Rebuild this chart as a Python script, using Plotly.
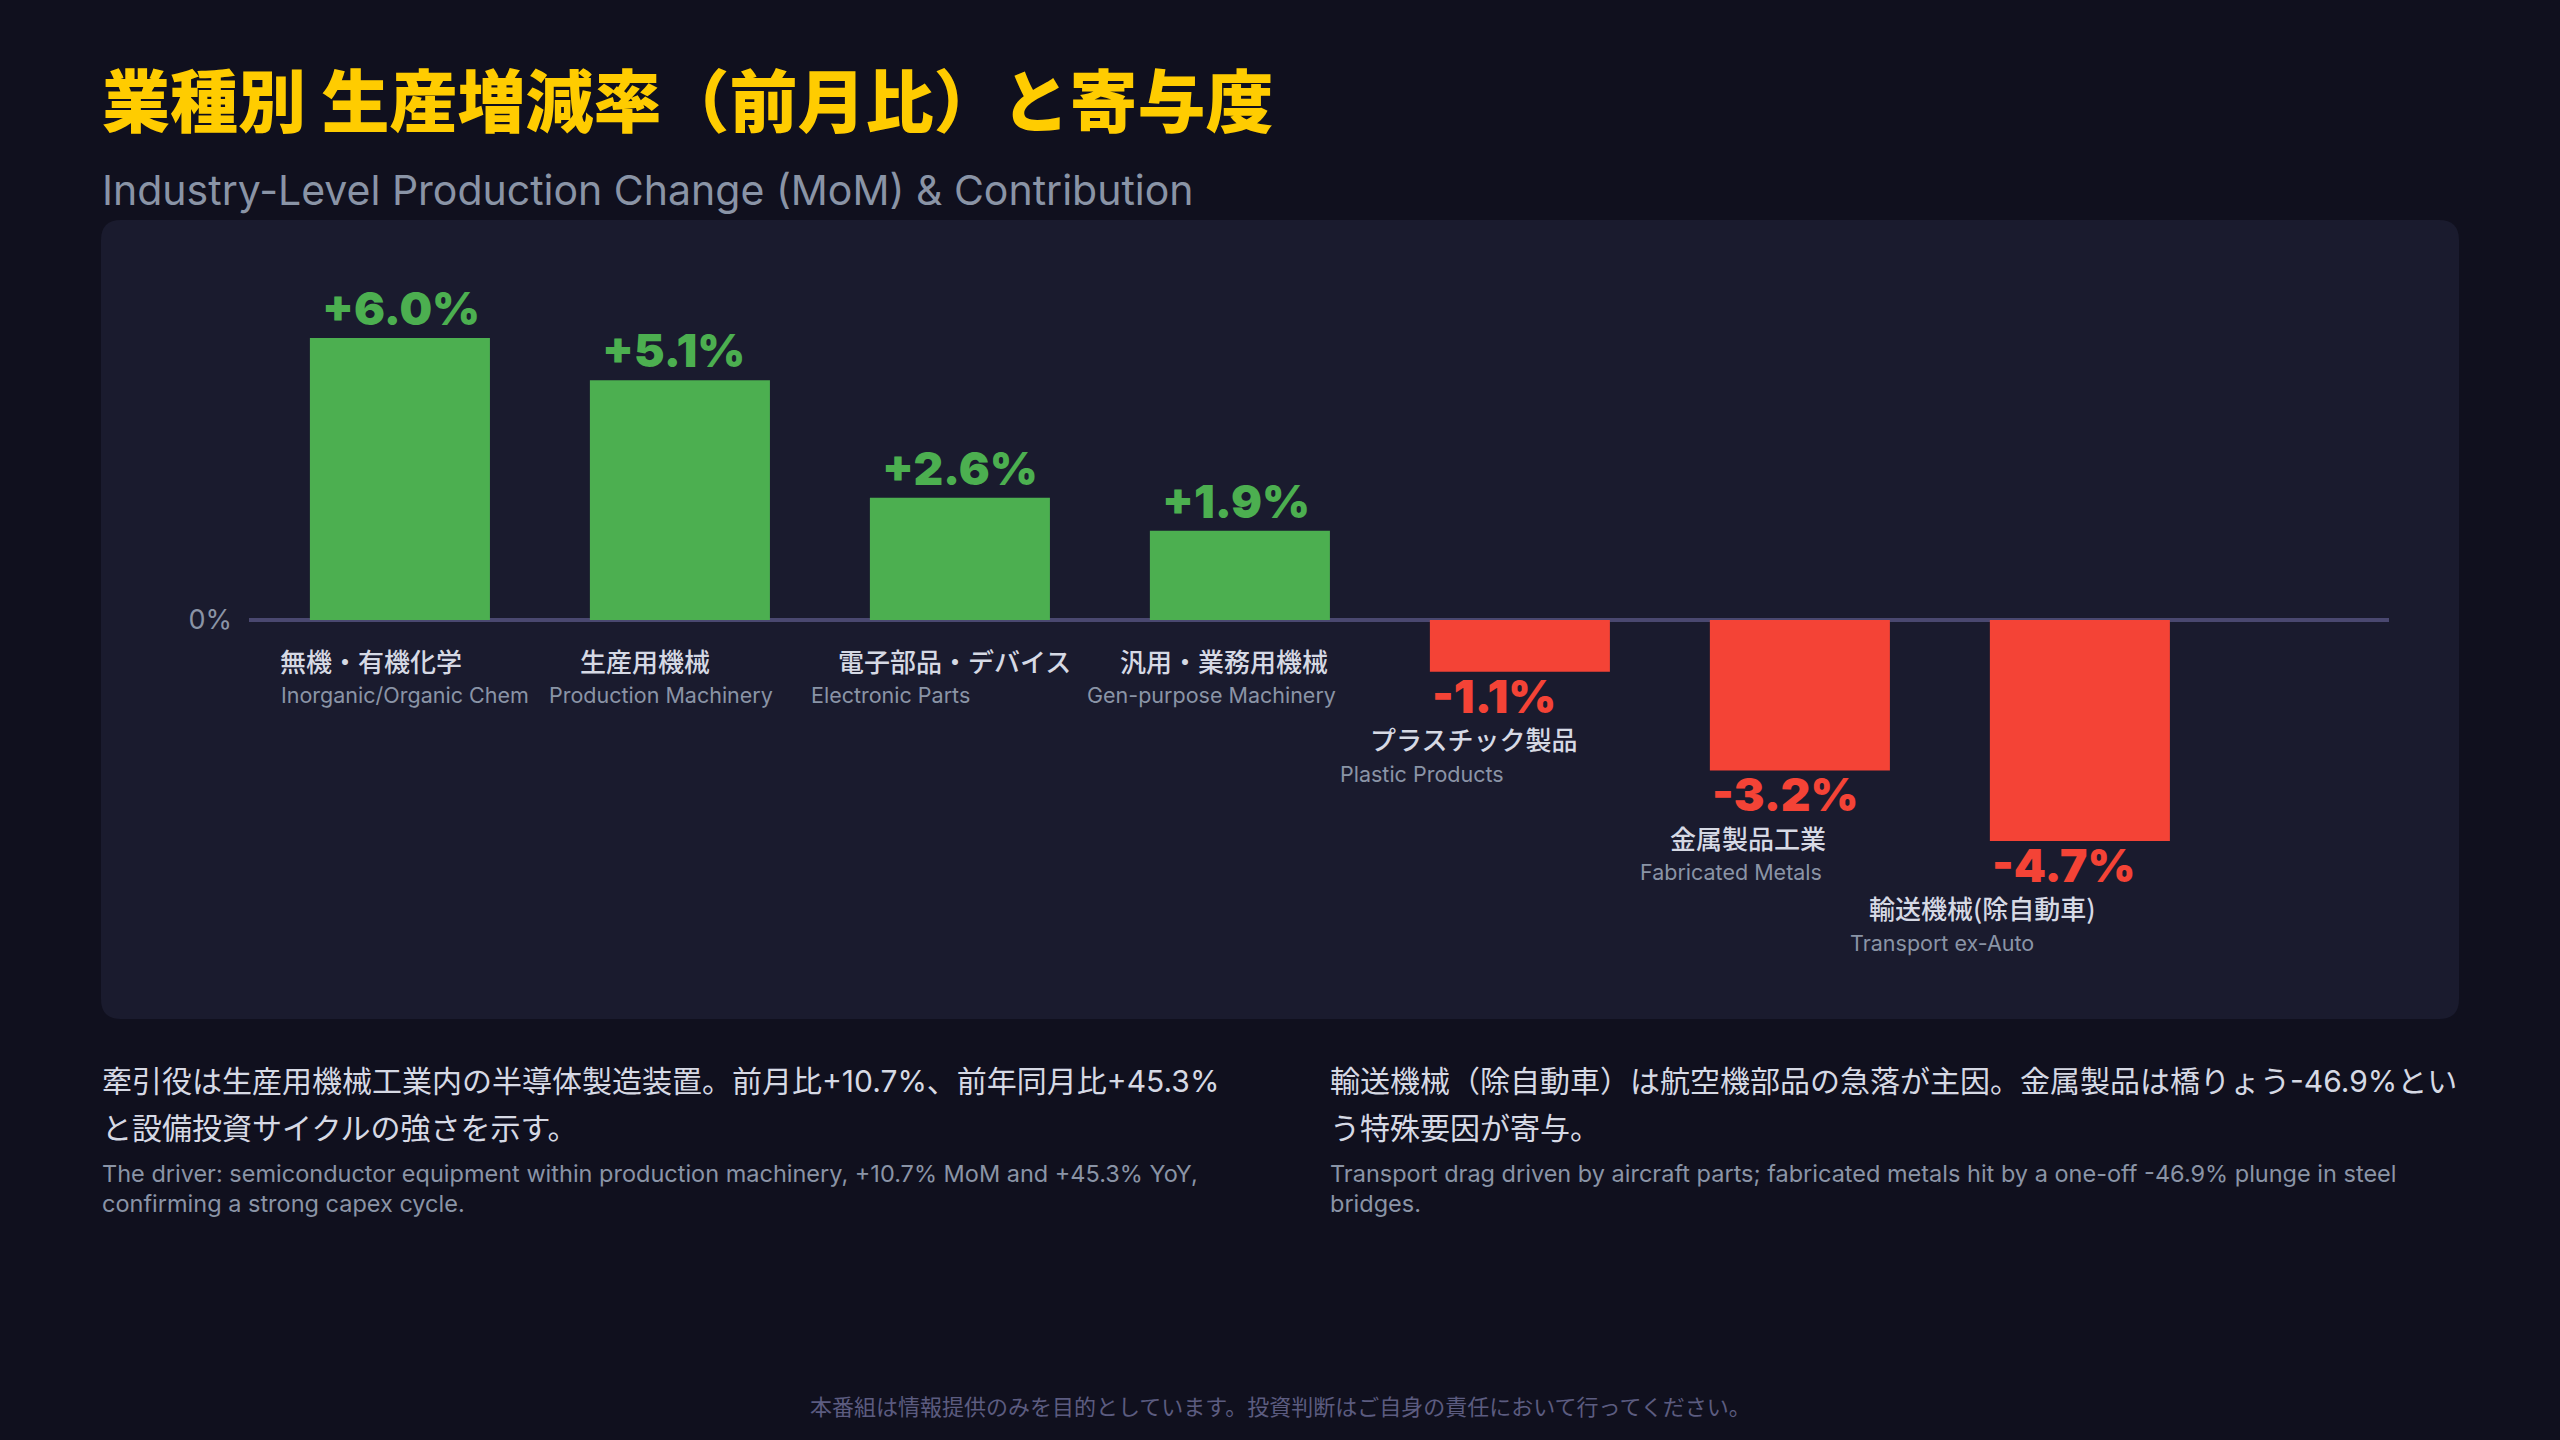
import plotly.graph_objects as go

# data
categories_jp = ["無機・有機化学", "生産用機械", "電子部品・デバイス", "汎用・業務用機械",
                 "プラスチック製品", "金属製品工業", "輸送機械(除自動車)"]
categories_en = ["Inorganic/Organic Chem", "Production Machinery", "Electronic Parts",
                 "Gen-purpose Machinery", "Plastic Products", "Fabricated Metals", "Transport ex-Auto"]
mom_change = [6.0, 5.1, 2.6, 1.9, -1.1, -3.2, -4.7]

title_jp = "業種別 生産増減率（前月比）と寄与度"
subtitle_en = "Industry-Level Production Change (MoM) & Contribution"
note_left_jp = ["牽引役は生産用機械工業内の半導体製造装置。前月比+10.7%、前年同月比+45.3%",
                "と設備投資サイクルの強さを示す。"]
note_left_en = ["The driver: semiconductor equipment within production machinery, +10.7% MoM and +45.3% YoY,",
                "confirming a strong capex cycle."]
note_right_jp = ["輸送機械（除自動車）は航空機部品の急落が主因。金属製品は橋りょう-46.9%とい",
                 "う特殊要因が寄与。"]
note_right_en = ["Transport drag driven by aircraft parts; fabricated metals hit by a one-off -46.9% plunge in steel",
                 "bridges."]
footer_jp = "本番組は情報提供のみを目的としています。投資判断はご自身の責任において行ってください。"

# label nudges (px from bar centre) so the captions sit like the original
jp_dx = [-29, -35, -5, -16, -46, -52, -97]
en_dx = [5, -19, -69, -28, -98, -69, -138]

BG = "#10101e"
PANEL = "#1a1b2e"
GREEN = "#4caf50"
RED = "#f44336"
GOLD = "#ffcc00"
MUTED = "#8a94a6"
LIGHT = "#d6d9e4"
JP = "Noto Sans CJK JP"
LAT = "Inter, Noto Sans CJK JP"

W, H = 2560, 1440
PL, PR, PT, PB = 249, 2389, 280, 960


def px_x(x):
    return (x - PL) / (PR - PL)


def px_y(y):
    return (PB - y) / (PB - PT)


colors = [GREEN if v >= 0 else RED for v in mom_change]

fig = go.Figure(go.Bar(
    x=categories_jp, y=mom_change, width=0.643,
    marker=dict(color=colors, line=dict(width=0)),
    hoverinfo="skip",
))

ann = []

# value + category labels
for i, v in enumerate(mom_change):
    cat = categories_jp[i]
    ann.append(dict(
        x=cat, y=v, xref="x", yref="y", text=f"{v:+.1f}%",
        xanchor="left", yanchor="middle",
        xshift=-90 + (10 if v > 0 else 0), yshift=30 if v > 0 else -24,
        showarrow=False, font=dict(family="Inter", size=46, color=colors[i], weight=900),
    ))
    base = 0 if v > 0 else v
    off = 40 if v > 0 else 67
    ann.append(dict(
        x=cat, y=base, xref="x", yref="y", text=cat,
        xanchor="center", yanchor="middle", xshift=jp_dx[i], yshift=-off,
        showarrow=False, font=dict(family=JP, size=26, color=LIGHT, weight=500),
    ))
    ann.append(dict(
        x=cat, y=base, xref="x", yref="y", text=categories_en[i],
        xanchor="center", yanchor="middle", xshift=en_dx[i], yshift=-(off + 35),
        showarrow=False, font=dict(family="Inter", size=21.5, color=MUTED),
    ))

# title block
ann.append(dict(x=px_x(100), y=px_y(97), xref="paper", yref="paper", text=title_jp,
                xanchor="left", yanchor="middle", showarrow=False,
                font=dict(family=JP, size=68, color=GOLD, weight=900)))
ann.append(dict(x=px_x(100), y=px_y(190), xref="paper", yref="paper", text=subtitle_en,
                xanchor="left", yanchor="middle", showarrow=False,
                font=dict(family="Inter", size=41, color=MUTED)))


def add_lines(lines, x, y0, step, size, color, family):
    for k, line in enumerate(lines):
        ann.append(dict(x=px_x(x), y=px_y(y0 + k * step), xref="paper", yref="paper",
                        text=line, xanchor="left", yanchor="middle", showarrow=False,
                        font=dict(family=family, size=size, color=color)))


add_lines(note_left_jp, 100, 1081, 47, 30, LIGHT, LAT)
add_lines(note_left_en, 100, 1173, 30, 23.5, MUTED, "Inter")
add_lines(note_right_jp, 1328, 1081, 47, 30, LIGHT, LAT)
add_lines(note_right_en, 1328, 1173, 30, 23.5, MUTED, "Inter")

ann.append(dict(x=px_x(1280), y=px_y(1405), xref="paper", yref="paper", text=footer_jp,
                xanchor="center", yanchor="middle", showarrow=False,
                font=dict(family=JP, size=22, color="#5c5c80")))

# rounded panel behind the chart
x0, x1 = px_x(101), px_x(2459)
y0, y1 = px_y(1019), px_y(220)
rx, ry = 20 / (PR - PL), 20 / (PB - PT)
panel_path = (f"M {x0 + rx},{y1} L {x1 - rx},{y1} Q {x1},{y1} {x1},{y1 - ry} "
              f"L {x1},{y0 + ry} Q {x1},{y0} {x1 - rx},{y0} L {x0 + rx},{y0} "
              f"Q {x0},{y0} {x0},{y0 + ry} L {x0},{y1 - ry} Q {x0},{y1} {x0 + rx},{y1} Z")

fig.update_layout(
    width=W, height=H,
    paper_bgcolor=BG, plot_bgcolor="rgba(0,0,0,0)",
    margin=dict(l=PL, r=W - PR, t=PT, b=H - PB, autoexpand=False),
    showlegend=False,
    annotations=ann,
    shapes=[dict(type="path", path=panel_path, xref="paper", yref="paper",
                 fillcolor=PANEL, line=dict(width=0), layer="below")],
)
fig.update_xaxes(range=[-0.539, 7.104], showticklabels=False, showgrid=False,
                 zeroline=False, showline=False)
fig.update_yaxes(range=[-7.234, 7.234], showgrid=False, zeroline=True,
                 zerolinecolor="#4a4870", zerolinewidth=4,
                 tickvals=[0], ticktext=["0%"], ticks="", ticklabelstandoff=16,
                 tickfont=dict(family="Inter", size=27, color=MUTED), showline=False)

# drop the default page margin so the figure fills the window
fig.write_html("out.html", config={"displayModeBar": False},
               post_script="document.body.style.margin='0';"
                           "document.body.style.background='#10101e';")
